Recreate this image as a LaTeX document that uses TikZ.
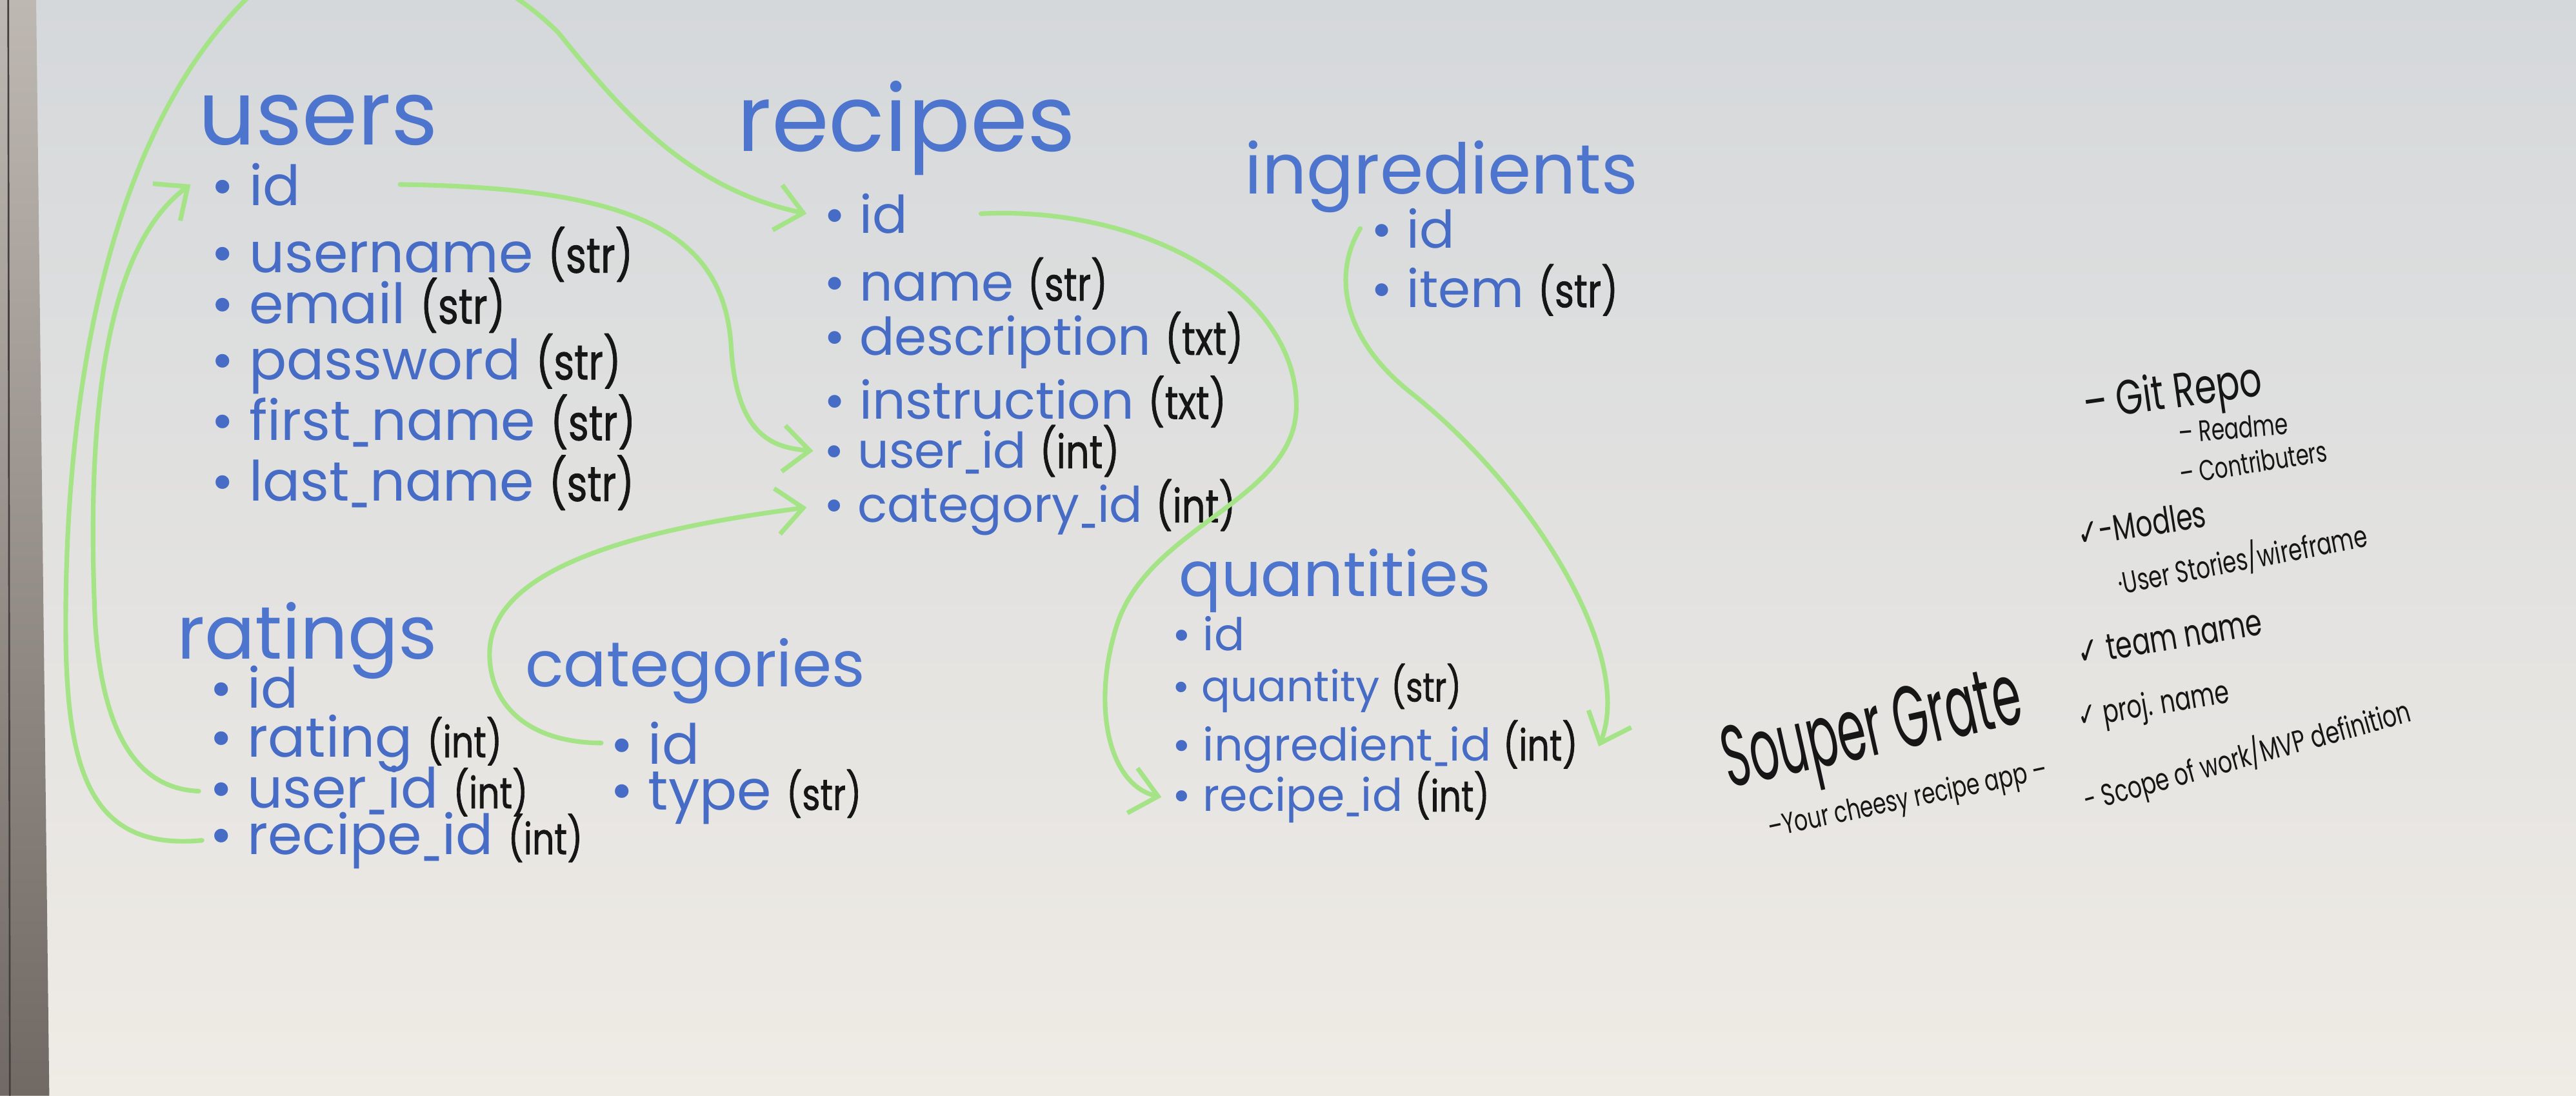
\documentclass[tikz,border=0pt]{standalone}
\usepackage{fontspec}
\usepackage{graphicx}
\setmainfont{Poppins}
\newfontfamily\ckfont{DejaVu Sans}
\newfontfamily\tyfont[FakeBold=1.2]{Poppins}
\usetikzlibrary{arrows.meta}

\definecolor{boardtop}{RGB}{213,216,219}
\definecolor{boardmid}{RGB}{237,238,237}
\definecolor{boardbot}{RGB}{239,235,229}
\definecolor{frametop}{RGB}{190,184,178}
\definecolor{framebot}{RGB}{112,105,100}
\definecolor{markblue}{RGB}{70,108,198}
\definecolor{headblue}{RGB}{78,117,205}
\definecolor{ink}{RGB}{22,22,22}
\definecolor{linkgreen}{RGB}{164,228,134}

% field type in black marker
\newcommand\ty[2][8]{\textcolor{ink}{\tyfont\fontsize{#1}{#1}\selectfont\scalebox{0.8}[1]{#2}}}
% short handwritten underscore
\newcommand\us{\scalebox{0.5}[1]{\_}}
% narrow handwriting
\newcommand\sq[2][0.72]{\scalebox{#1}[1]{#2}}
\newcommand\ck{{\ckfont ✓}}

\tikzset{
  head/.style={anchor=base west, inner sep=0pt, text=headblue, font=\fontsize{#1}{#1}\selectfont},
  field/.style={anchor=base west, inner sep=0pt, text=markblue, font=\fontsize{#1}{#1}\selectfont},
  field/.default=9.5,
  note/.style={anchor=base west, inner sep=0pt, text=ink, font=\fontsize{#1}{#1}\selectfont},
  link/.style={draw=linkgreen, line width=0.8pt, line cap=round, line join=round},
  tip/.style={-{Straight Barb[length=1.6mm,width=2.8mm]}}
}

\begin{document}
\begin{tikzpicture}[x=0.01cm,y=-0.01cm]
\useasboundingbox (0,0) rectangle (1568,667);
\begin{scope}
\clip (0,0) rectangle (1568,667);

% whiteboard and its frame
\shade[top color=boardtop, middle color=boardmid, bottom color=boardbot] (0,0) rectangle (1568,667);
\shade[top color=frametop, bottom color=framebot] (0,0) -- (22,0) -- (30,667) -- (0,667) -- cycle;
\draw[framebot!60!black, line width=0.3pt] (5,0) -- (6,667);

% users
\node[head=15.5] (users) at (120,88) {users};
\node[field=9.6] (uid)    at (128,125) {• id};
\node[field=9.6] (uname)  at (128,166) {• username \ty[8.5]{(str)}};
\node[field=9.6] (umail)  at (128,197) {• email \ty[8.5]{(str)}};
\node[field=9.6] (upass)  at (128,231) {• password \ty[8.5]{(str)}};
\node[field=9.6] (ufirst) at (128,268) {• first\us name \ty[8.5]{(str)}};
\node[field=9.6] (ulast)  at (128,305) {• last\us name \ty[8.5]{(str)}};

% recipes
\node[head=16] (recipes) at (448,92) {recipes};
\node[field=9] (rid)   at (501,142) {• id};
\node[field=9] (rname) at (501,183) {• name \ty{(str)}};
\node[field=9] (rdesc) at (501,216) {• description \ty{(txt)}};
\node[field=9] (rinst) at (501,255) {• instruction \ty{(txt)}};
\node[field=8.5] (ruser) at (501,285) {• user\us id \ty{(int)}};
\node[field=8.5] (rcat)  at (501,318) {• category\us id \ty{(int)}};

% ingredients
\node[head=12.1] (ingredients) at (757,118) {ingredients};
\node[field=9] (iid)   at (834,151) {• id};
\node[field=9] (iitem) at (834,187) {• item \ty{(str)}};

% quantities
\node[head=10.8] (quantities) at (717,363) {quantities};
\node[field=7.8] (qid)  at (713,396) {• id};
\node[field=7.4] (qqty) at (713,427) {• quantity \ty[7]{(str)}};
\node[field=7.8] (qing) at (713,463) {• ingredient\us id \ty[7.5]{(int)}};
\node[field=7.8] (qrec) at (713,494) {• recipe\us id \ty[7.5]{(int)}};

% ratings
\node[head=12.9] (ratings) at (107,401) {ratings};
\node[field=9.6] (tid)   at (127,431) {• id};
\node[field=9.6] (trate) at (127,461) {• rating \ty[7.5]{(int)}};
\node[field=9.6] (tuser) at (127,492) {• user\us id \ty[7.5]{(int)}};
\node[field=9.6] (trec)  at (127,520) {• recipe\us id \ty[7.5]{(int)}};

% categories
\node[head=11] (categories) at (319,418) {categories};
\node[field=9.6] (cid)   at (371,465) {• id};
\node[field=9.6] (ctype) at (371,493) {• type \ty[7.5]{(str)}};

% relations
\draw[link,tip] ([xshift=6mm]uid.east) .. controls +(140,2) and +(-5,-70) .. (445,210)
  .. controls +(3,55) and +(-25,-2) .. ([xshift=-0.6mm]ruser.west);
\draw[link,tip] ([xshift=-0.4mm]trec.west) .. controls (55,518) and (40,470) .. (40,380)
  .. controls (40,200) and (80,60) .. (160,-10)
  .. controls (230,-50) and (300,-20) .. (340,20)
  .. controls (380,70) and (420,115) .. ([xshift=-1mm]rid.west);
\draw[link,tip] ([xshift=-0.6mm]tuser.west) .. controls (80,480) and (62,440) .. (58,380)
  .. controls (52,250) and (65,150) .. ([xshift=-1.2mm]uid.west);
\draw[link,tip] ([xshift=-0.5mm]cid.west) .. controls (320,452) and (298,428) .. (298,398)
  .. controls (298,345) and (390,322) .. ([xshift=-1mm]rcat.west);
\draw[link,tip] ([xshift=4.4mm]rid.east) .. controls (700,125) and (792,180) .. (789,250)
  .. controls (786,305) and (700,320) .. (680,380)
  .. controls (664,430) and (675,478) .. ([xshift=-0.6mm]qrec.west);
\draw[link,tip] ([xshift=-0.6mm]iid.west) .. controls (812,165) and (815,205) .. (860,240)
  .. controls (935,300) and (995,400) .. ([xshift=1.2mm]qing.east);

% project notes
\node[note=8.4,  rotate=8]    (git)    at (1269,256) {\sq{– Git Repo}};
\node[note=5.1,  rotate=5]    (readme) at (1326,270) {\sq{– Readme}};
\node[note=5,    rotate=9]    (contrib) at (1327,295) {\sq{– Contributers}};
\node[note=6.3,  rotate=9]    (models) at (1265,333) {\sq{\ck-Modles}};
\node[note=5.25, rotate=11]   (stories) at (1290,362) {\sq{·User Stories/wireframe}};
\node[note=6.4,  rotate=9.5]  (team)   at (1265,405) {\sq{\ck\ team name}};
\node[note=5.6,  rotate=9.5]  (proj)   at (1265,443) {\sq{\ck\ proj. name}};
\node[note=5.3,  rotate=15.5] (scope)  at (1270,494) {\sq{- Scope of work/MVP definition}};
\node[note=15,   rotate=12.6] (title)  at (1052,480) {\sq[0.53]{Souper Grate}};
\node[note=5.1,  rotate=12]   (tagline) at (1077,510) {\sq{–Your cheesy recipe app –}};
\end{scope}
\end{tikzpicture}
\end{document}
